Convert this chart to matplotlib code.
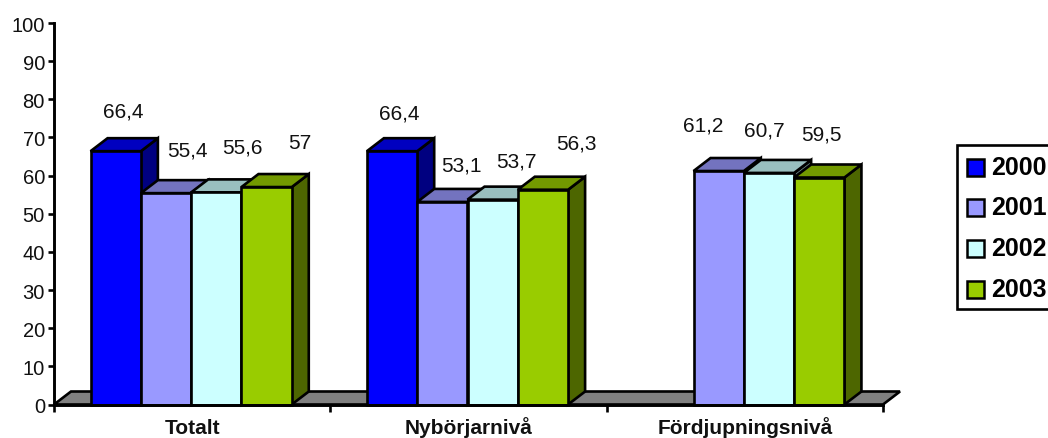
import numpy as np
import matplotlib
matplotlib.use("Agg")
import matplotlib.pyplot as plt
from matplotlib.patches import Polygon, Rectangle

plt.rcParams['font.family'] = ['Liberation Sans', 'DejaVu Sans']

categories = ['Totalt', 'Nybörjarnivå', 'Fördjupningsnivå']
years = ['2000', '2001', '2002', '2003']
values_2000 = [66.4, 66.4, None]
values_2001 = [55.4, 53.1, 61.2]
values_2002 = [55.6, 53.7, 60.7]
values_2003 = [57, 56.3, 59.5]
series = [values_2000, values_2001, values_2002, values_2003]

front = ['#0000FF', '#9999FF', '#CCFFFF', '#99CC00']
top = ['#0000C0', '#7373BF', '#99BFBF', '#739900']
side = ['#000080', '#4D4D80', '#668080', '#4D6600']

# label offsets from the top centre of each bar, in pixels
label_dx = [[8, 21, 26, 33], [7, 19, 24, 33], [0, -15, -5, 2]]
label_dy = [[40, 43, 45, 45], [38, 37, 39, 47], [0, 46, 43, 44]]

W, H = 1048, 439
fig = plt.figure(figsize=(W / 100, H / 100), dpi=100)
# plot area in pixels: x 54-883, y 24-405
ax = fig.add_axes([54 / W, 1 - 405.5 / H, 829 / W, 381.5 / H])
ax.set_xlim(0, 3)
ax.set_ylim(0, 100)

px_x = 3 / 829
px_y = 100 / 381.5
dep_x = 17 * px_x
dep_y = 13 * px_y
bar_w = 50.3 * px_x
gap = (1 - 4 * bar_w) / 2 - 1 * px_x
lw = 1.9

# floor
ax.add_patch(Polygon([(0, 0), (dep_x, dep_y), (3 + dep_x, dep_y), (3, 0)],
                     facecolor='#808080', edgecolor='black', lw=lw,
                     clip_on=False, zorder=1, joinstyle='miter'))

z = 2
for c in range(len(categories)):
    for s in range(len(years)):
        v = series[s][c]
        if v is None:
            continue
        x0 = c + gap + s * bar_w
        x1 = x0 + bar_w
        ax.add_patch(Polygon([(x1, 0), (x1 + dep_x, dep_y), (x1 + dep_x, v + dep_y), (x1, v)],
                             facecolor=side[s], edgecolor='black', lw=lw,
                             clip_on=False, zorder=z))
        ax.add_patch(Polygon([(x0, v), (x0 + dep_x, v + dep_y), (x1 + dep_x, v + dep_y), (x1, v)],
                             facecolor=top[s], edgecolor='black', lw=lw,
                             clip_on=False, zorder=z))
        ax.bar(x0, v, width=bar_w, align='edge', color=front[s], edgecolor='black',
               linewidth=lw, clip_on=False, zorder=z + 0.5)
        z += 1
        text = str(v).replace('.', ',')
        ax.annotate(text, (x0 + bar_w / 2, v), xytext=(label_dx[c][s] * 0.72, label_dy[c][s] * 0.72),
                    textcoords='offset points', ha='center', va='center',
                    fontsize=15, color='#111111', zorder=50)

for name in ['top', 'right']:
    ax.spines[name].set_visible(False)
for name in ['left', 'bottom']:
    ax.spines[name].set_linewidth(2.1)
    ax.spines[name].set_zorder(40)

ax.set_yticks(np.arange(0, 101, 10))
ax.tick_params(axis='y', length=4.5, width=1.9, labelsize=14.5, pad=2, labelcolor='#111111')
ax.set_xticks([0, 1, 2, 3])
ax.set_xticklabels([])
ax.tick_params(axis='x', length=5, width=1.9)
for c, name in enumerate(categories):
    ax.text(c + 0.5, -28.3 * px_y, name, ha='center', va='baseline', fontsize=15,
            fontweight='bold', color='#111111', clip_on=False)

# legend box, runs past the right edge of the picture
fig.add_artist(Rectangle((957 / W, 1 - 310 / H), 120 / W, 164 / H, transform=fig.transFigure,
                         facecolor='white', edgecolor='black', lw=1.9))
legend_y = [168, 208.5, 249, 290]
for s, year in enumerate(years):
    y = legend_y[s]
    fig.add_artist(Rectangle((967 / W, 1 - (y + 8.5) / H), 17 / W, 17 / H, transform=fig.transFigure,
                             facecolor=front[s], edgecolor='black', lw=1.8))
    fig.text(991 / W, 1 - y / H, year, ha='left', va='center', fontsize=18, fontweight='bold')

fig.savefig('out.png', dpi=100)
